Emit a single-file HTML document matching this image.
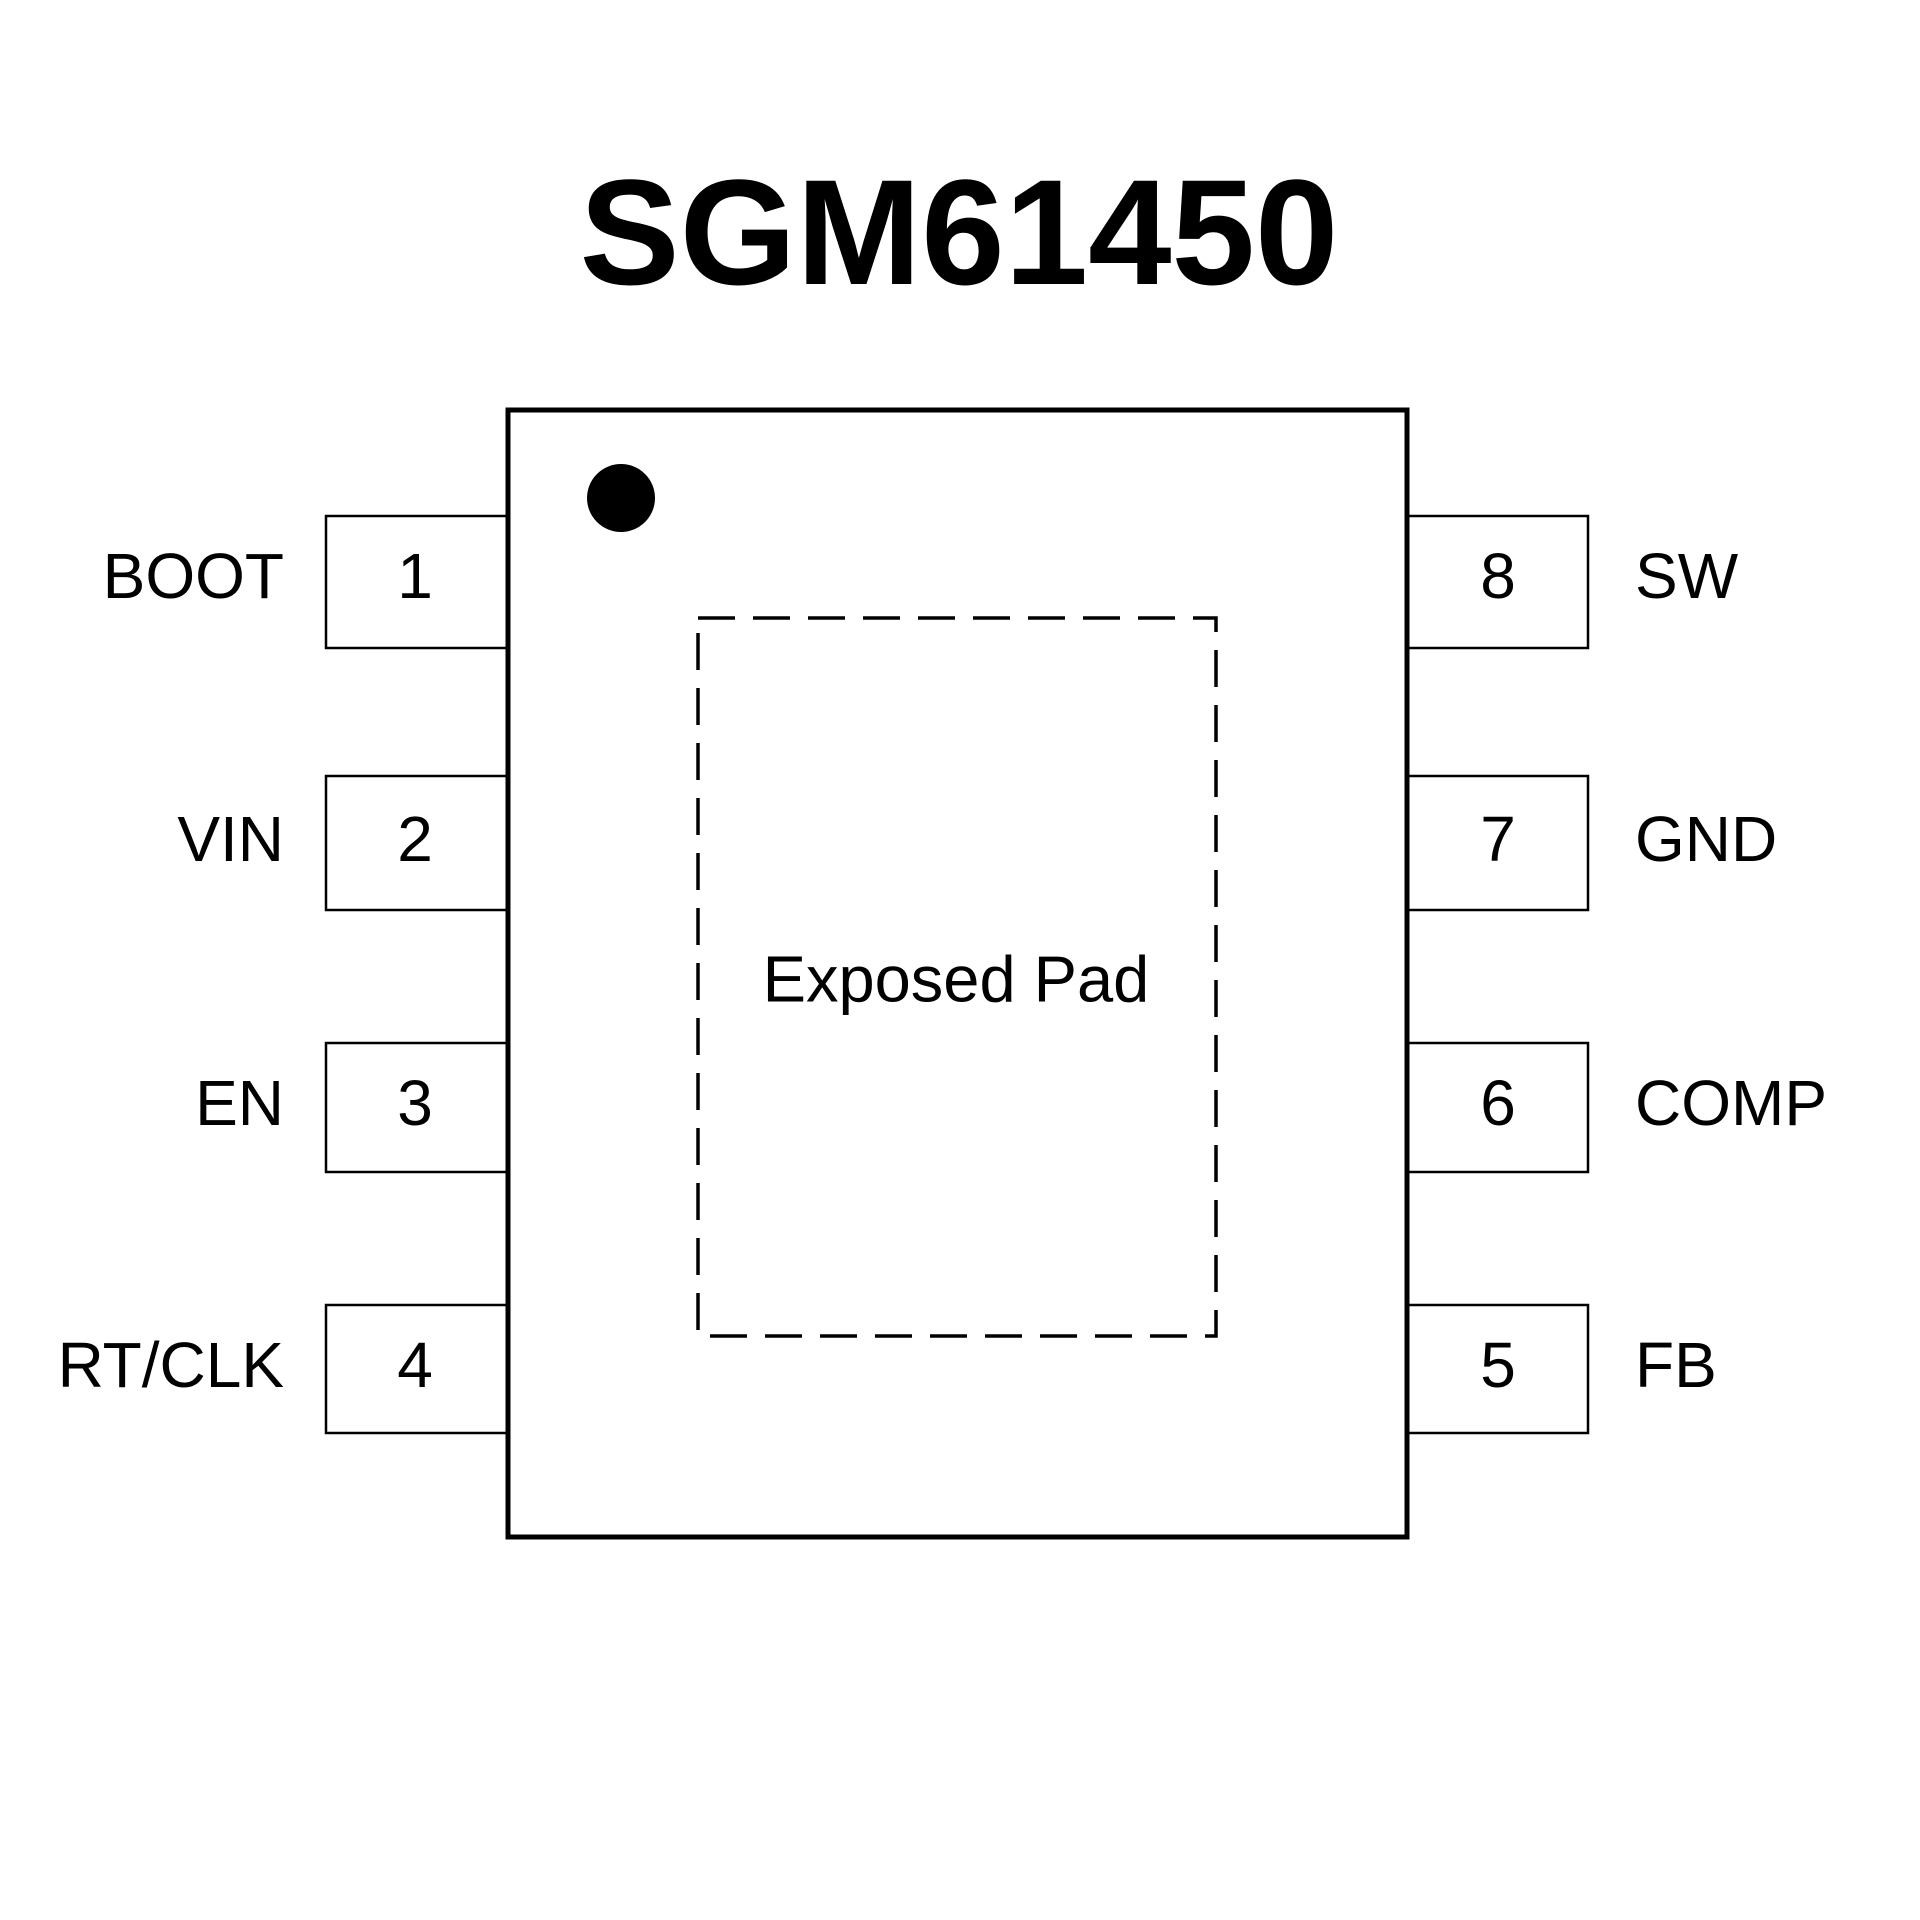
<!DOCTYPE html>
<html><head><meta charset="utf-8"><style>html,body{margin:0;padding:0;background:#fff}svg{display:block}</style></head>
<body>
<svg width="1920" height="1920" viewBox="0 0 1920 1920" xmlns="http://www.w3.org/2000/svg">
<rect width="1920" height="1920" fill="#fff"/>
<text x="959" y="284" text-anchor="middle" font-family="Liberation Sans, sans-serif" font-weight="bold" font-size="150" fill="#000">SGM61450</text>
<g fill="#fff" stroke="#000" stroke-width="2.5">
<rect x="326" y="516" width="182" height="132"/>
<rect x="326" y="776" width="182" height="134"/>
<rect x="326" y="1043" width="182" height="129"/>
<rect x="326" y="1305" width="182" height="128"/>
<rect x="1407" y="516" width="181" height="132"/>
<rect x="1407" y="776" width="181" height="134"/>
<rect x="1407" y="1043" width="181" height="129"/>
<rect x="1407" y="1305" width="181" height="128"/>
</g>
<rect x="508" y="410" width="899" height="1127" fill="#fff" stroke="#000" stroke-width="5"/>
<circle cx="621" cy="498" r="34" fill="#000"/>
<rect x="698" y="618" width="518" height="718" fill="none" stroke="#000" stroke-width="3.5" stroke-dasharray="37 18"/>
<g font-family="Liberation Sans, sans-serif" font-size="64" fill="#000" dominant-baseline="central">
<text x="415" y="576" text-anchor="middle">1</text>
<text x="415" y="839" text-anchor="middle">2</text>
<text x="415" y="1103" text-anchor="middle">3</text>
<text x="415" y="1365" text-anchor="middle">4</text>
<text x="1498" y="576" text-anchor="middle">8</text>
<text x="1498" y="839" text-anchor="middle">7</text>
<text x="1498" y="1103" text-anchor="middle">6</text>
<text x="1498" y="1365" text-anchor="middle">5</text>
<text x="284" y="576" text-anchor="end">BOOT</text>
<text x="284" y="839" text-anchor="end">VIN</text>
<text x="284" y="1103" text-anchor="end">EN</text>
<text x="284" y="1365" text-anchor="end">RT/CLK</text>
<text x="1635" y="576">SW</text>
<text x="1635" y="839">GND</text>
<text x="1635" y="1103">COMP</text>
<text x="1635" y="1365">FB</text>
</g>
<text x="956" y="979" text-anchor="middle" dominant-baseline="central" font-family="Liberation Sans, sans-serif" font-size="65" fill="#000">Exposed Pad</text>
</svg>
</body></html>
